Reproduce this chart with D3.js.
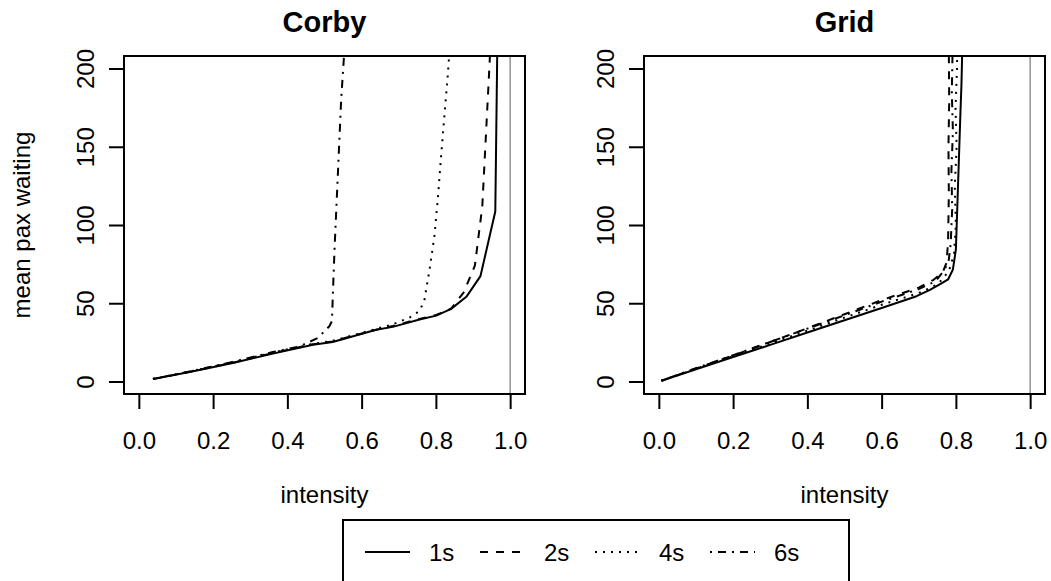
<!DOCTYPE html>
<html>
<head>
<meta charset="utf-8">
<script src="https://cdn.jsdelivr.net/npm/d3@7"></script>
<style>
  html, body { margin: 0; padding: 0; background: #fff; }
  svg { display: block; font-family: "Liberation Sans", Arial, Helvetica, sans-serif; }
</style>
</head>
<body>
<svg id="chart" width="1051" height="581"></svg>
<script>
// ---------- data ----------
const seriesNames = ["1s", "2s", "4s", "6s"];
const intensityTicks = [0, 0.2, 0.4, 0.6, 0.8, 1.0];
const waitTicks = [0, 50, 100, 150, 200];
const panelTitles = ["Corby", "Grid"];

// Corby
const corby1sX = [0.038, 0.137, 0.253, 0.361, 0.469, 0.522, 0.558, 0.639, 0.684, 0.756, 0.801, 0.841, 0.882, 0.920, 0.960, 0.975];
const corby1sY = [1.5, 6.0, 11.8, 17.8, 23.5, 25.2, 27.6, 33.1, 34.9, 39.6, 42.1, 46.4, 54.1, 67.3, 108.6, 400];
const corby2sX = [0.038, 0.137, 0.253, 0.361, 0.469, 0.522, 0.558, 0.639, 0.684, 0.756, 0.801, 0.841, 0.875, 0.905, 0.925, 0.945, 0.955];
const corby2sY = [1.6, 6.2, 12.0, 18.2, 23.8, 25.6, 28.0, 33.0, 35.4, 40.0, 42.5, 46.5, 57.0, 74.0, 112.0, 205.0, 300.0];
const corby4sX = [0.038, 0.137, 0.253, 0.361, 0.469, 0.522, 0.558, 0.639, 0.684, 0.730, 0.756, 0.769, 0.783, 0.796, 0.805, 0.814, 0.823, 0.832, 0.845];
const corby4sY = [1.7, 6.3, 12.3, 18.5, 24.0, 26.0, 28.3, 33.6, 36.5, 41.0, 45.0, 52.0, 71.6, 93.0, 116.0, 144.0, 170.0, 195.5, 240.0];
const corby6sX = [0.038, 0.137, 0.253, 0.361, 0.433, 0.482, 0.513, 0.520, 0.523, 0.527, 0.533, 0.539, 0.545, 0.552, 0.560];
const corby6sY = [1.6, 6.4, 12.5, 18.8, 22.4, 27.8, 35.3, 38.5, 58.8, 84.4, 116.5, 148.5, 180.6, 206.0, 250.0];

// Grid
const grid1sX = [0.007, 0.1, 0.2, 0.3, 0.4, 0.5, 0.6, 0.694, 0.73, 0.76, 0.779, 0.792, 0.800, 0.806, 0.812, 0.815, 0.820];
const grid1sY = [0.4, 7.8, 15.6, 23.4, 31.3, 39.1, 47.0, 54.5, 58.5, 62.5, 65.2, 71.6, 84.4, 127, 170, 190, 240];
const grid2sX = [0.007, 0.1, 0.2, 0.3, 0.4, 0.5, 0.6, 0.7, 0.74, 0.765, 0.775, 0.779, 0.781, 0.780, 0.782, 0.781, 0.783];
const grid2sY = [0.5, 8.3, 16.6, 25.2, 34.0, 43.0, 52.0, 60.0, 65.0, 70.0, 76.0, 90.0, 120, 150, 180, 210, 250];
const grid4sX = [0.007, 0.1, 0.2, 0.3, 0.4, 0.5, 0.6, 0.7, 0.75, 0.77, 0.785, 0.795, 0.800, 0.797, 0.802, 0.799, 0.803, 0.805];
const grid4sY = [0.5, 8.1, 16.2, 24.3, 32.5, 40.8, 49.0, 56.5, 62.0, 67.0, 73.0, 82.0, 100, 125, 150, 175, 200, 240];
const grid6sX = [0.007, 0.1, 0.2, 0.3, 0.4, 0.5, 0.6, 0.7, 0.745, 0.765, 0.780, 0.786, 0.790, 0.788, 0.792, 0.789, 0.791, 0.792];
const grid6sY = [0.6, 8.5, 16.8, 25.3, 33.8, 42.3, 51.0, 59.0, 64.0, 70.0, 76.0, 88.0, 110, 135, 160, 185, 210, 250];

const refLineX = 1.0;

// ---------- styles ----------
const dashes = ["none", "8,8", "2,6", "2,6,8,6"];

// ---------- layout ----------
const svg = d3.select("#chart");
const plotTop = 56, plotBottom = 394, plotW = 401;
const panelLefts = [124, 644];
const panelSeries = [
  [[corby1sX, corby1sY], [corby2sX, corby2sY], [corby4sX, corby4sY], [corby6sX, corby6sY]],
  [[grid1sX, grid1sY], [grid2sX, grid2sY], [grid4sX, grid4sY], [grid6sX, grid6sY]]
];

const y = d3.scaleLinear().domain([-8, 208]).range([plotBottom, plotTop]);

panelLefts.forEach((left, pi) => {
  const x = d3.scaleLinear().domain([-0.04, 1.04]).range([left, left + plotW]);
  const g = svg.append("g");
  const clipId = "clip" + pi;
  svg.append("defs").append("clipPath").attr("id", clipId)
    .append("rect").attr("x", left).attr("y", plotTop).attr("width", plotW).attr("height", plotBottom - plotTop);

  // reference line
  g.append("line")
    .attr("x1", x(refLineX)).attr("x2", x(refLineX))
    .attr("y1", plotTop).attr("y2", plotBottom)
    .attr("stroke", "#9a9a9a").attr("stroke-width", 1.6);

  // series
  const line = d3.line().x(d => x(d[0])).y(d => y(d[1]));
  const lg = g.append("g").attr("clip-path", `url(#${clipId})`);
  panelSeries[pi].forEach((s, si) => {
    const pts = s[0].map((xv, i) => [xv, s[1][i]]);
    lg.append("path")
      .attr("d", line(pts))
      .attr("fill", "none")
      .attr("stroke", "#000")
      .attr("stroke-width", 2)
      .attr("stroke-linejoin", "round")
      .attr("stroke-dasharray", dashes[si]);
  });

  // x axis
  const xa = g.append("g").attr("transform", `translate(0,${plotBottom})`)
    .call(d3.axisBottom(x).tickValues(intensityTicks).tickFormat(d3.format(".1f")).tickSize(15));
  xa.select(".domain").remove();
  xa.selectAll(".tick line").attr("stroke", "#000").attr("stroke-width", 2);
  xa.selectAll(".tick text")
    .attr("y", 55).attr("dy", 0)
    .attr("font-size", 24).attr("fill", "#000")
    .attr("font-family", "Liberation Sans, Arial, sans-serif");

  // y axis
  const ya = g.append("g").attr("transform", `translate(${left},0)`)
    .call(d3.axisLeft(y).tickValues(waitTicks).tickSize(15));
  ya.select(".domain").remove();
  ya.selectAll(".tick line").attr("stroke", "#000").attr("stroke-width", 2);
  ya.selectAll(".tick text")
    .attr("x", 0).attr("y", 0).attr("dy", 0)
    .attr("transform", "translate(-30,0) rotate(-90)")
    .attr("text-anchor", "middle")
    .attr("font-size", 24).attr("fill", "#000")
    .attr("font-family", "Liberation Sans, Arial, sans-serif");

  // frame
  g.append("rect")
    .attr("x", left).attr("y", plotTop)
    .attr("width", plotW).attr("height", plotBottom - plotTop)
    .attr("fill", "none").attr("stroke", "#000").attr("stroke-width", 2);

  // title
  g.append("text")
    .attr("x", left + plotW / 2).attr("y", 32)
    .attr("text-anchor", "middle")
    .attr("font-size", 29).attr("font-weight", "bold")
    .text(panelTitles[pi]);

  // x label
  g.append("text")
    .attr("x", left + plotW / 2).attr("y", 503)
    .attr("text-anchor", "middle")
    .attr("font-size", 24)
    .text("intensity");
});

// y label
svg.append("text")
  .attr("transform", `translate(30,${(plotTop + plotBottom) / 2}) rotate(-90)`)
  .attr("text-anchor", "middle")
  .attr("font-size", 24)
  .text("mean pax waiting");

// legend
const legX = 343, legY = 520, legW = 506, legH = 66;
const leg = svg.append("g");
leg.append("rect")
  .attr("x", legX).attr("y", legY).attr("width", legW).attr("height", legH)
  .attr("fill", "#fff").attr("stroke", "#000").attr("stroke-width", 2);
const legStep = 115;
seriesNames.forEach((name, i) => {
  const lx = 365 + legStep * i;
  leg.append("line")
    .attr("x1", lx).attr("x2", lx + 45)
    .attr("y1", 552).attr("y2", 552)
    .attr("stroke", "#000").attr("stroke-width", 2)
    .attr("stroke-dasharray", dashes[i]);
  leg.append("text")
    .attr("x", lx + 64).attr("y", 561)
    .attr("font-size", 24)
    .text(name);
});
</script>
</body>
</html>
